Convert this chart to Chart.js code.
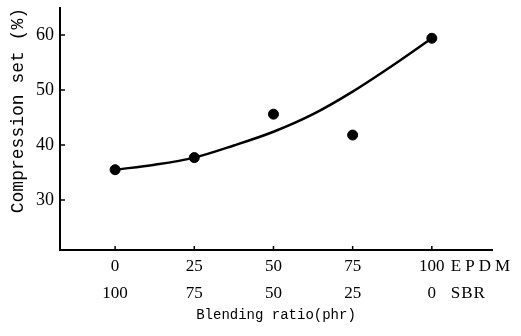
<!DOCTYPE html>
<html>
<head>
<meta charset="utf-8">
<script src="https://cdn.jsdelivr.net/npm/chart.js@4"></script>
<style>
  html, body { margin: 0; padding: 0; background: #fff; }
  #wrap { width: 521px; height: 336px; }
</style>
</head>
<body>
<div id="wrap"><canvas id="chart" width="521" height="336"></canvas></div>
<script>
// measured points (EPDM phr, compression set %)
const epdm = [0, 25, 50, 75, 100];
const sbr = [100, 75, 50, 25, 0];
const compressionSet = [35.5, 37.7, 45.6, 41.8, 59.4];

// smooth trend curve drawn through the data
const curveX = [0, 12.5, 25, 37.5, 50, 62.5, 75, 87.5, 100];
const curveY = [35.5, 36.4, 37.7, 39.9, 42.4, 45.6, 49.7, 54.4, 59.4];

const yTicks = [30, 40, 50, 60];

const serif = "'Liberation Serif', 'DejaVu Serif', serif";
const mono = "'Liberation Mono', 'DejaVu Sans Mono', monospace";

// inward tick marks + EPDM / SBR row names
const extras = {
    id: 'extras',
    afterDraw(chart) {
        const x = chart.scales.x;
        const y = chart.scales.y;
        const area = chart.chartArea;
        const ctx = chart.ctx;
        ctx.save();
        ctx.strokeStyle = '#000';
        ctx.lineWidth = 1.5;
        ctx.beginPath();
        yTicks.forEach(v => {
            const py = y.getPixelForValue(v);
            ctx.moveTo(area.left, py);
            ctx.lineTo(area.left + 5, py);
        });
        epdm.forEach(v => {
            const px = x.getPixelForValue(v);
            ctx.moveTo(px, area.bottom);
            ctx.lineTo(px, area.bottom - 4);
        });
        ctx.stroke();

        const px = x.getPixelForValue(100);
        ctx.fillStyle = '#000';
        ctx.font = '17px ' + serif;
        ctx.textBaseline = 'middle';
        ctx.textAlign = 'left';
        if ('letterSpacing' in ctx) ctx.letterSpacing = '4px';
        ctx.fillText('EPDM', px + 19, x.top + 16.5);
        if ('letterSpacing' in ctx) ctx.letterSpacing = '1px';
        ctx.fillText('SBR', px + 19, x.top + 43.5);
        ctx.restore();
    }
};

new Chart(document.getElementById('chart'), {
    type: 'scatter',
    data: {
        datasets: [{
            type: 'line',
            data: curveX.map((v, i) => ({ x: v, y: curveY[i] })),
            borderColor: '#000',
            borderWidth: 2.5,
            pointRadius: 0,
            cubicInterpolationMode: 'monotone',
            fill: false
        }, {
            data: epdm.map((v, i) => ({ x: v, y: compressionSet[i] })),
            backgroundColor: '#000',
            borderColor: '#000',
            pointRadius: 5,
            pointHoverRadius: 5
        }]
    },
    options: {
        responsive: false,
        animation: false,
        events: [],
        layout: { padding: { top: 8, right: 29, left: 0, bottom: 0 } },
        plugins: {
            legend: { display: false },
            tooltip: { enabled: false }
        },
        scales: {
            x: {
                type: 'linear',
                min: -17.4,
                max: 119,
                afterFit(scale) {
                    scale.height = 86;
                    scale.paddingLeft = 0;
                    scale.paddingRight = 0;
                },
                afterBuildTicks(scale) {
                    scale.ticks = epdm.map(v => ({ value: v }));
                },
                border: { display: true, color: '#000', width: 2 },
                grid: { display: false, drawTicks: false },
                ticks: {
                    color: '#000',
                    padding: 3,
                    maxRotation: 0,
                    autoSkip: false,
                    font: { family: serif, size: 17, lineHeight: 27 / 17 },
                    callback(value) {
                        const i = epdm.indexOf(value);
                        return i < 0 ? '' : [String(epdm[i]), String(sbr[i])];
                    }
                },
                title: {
                    display: true,
                    text: 'Blending ratio(phr)',
                    color: '#000',
                    font: { family: mono, size: 14 },
                    padding: { top: 0, bottom: 12 }
                }
            },
            y: {
                type: 'linear',
                min: 20.9,
                max: 64.9,
                afterFit(scale) {
                    scale.width = 60;
                    scale.paddingTop = 0;
                    scale.paddingBottom = 0;
                },
                afterBuildTicks(scale) {
                    scale.ticks = yTicks.map(v => ({ value: v }));
                },
                border: { display: true, color: '#000', width: 2 },
                grid: { display: false, drawTicks: false },
                ticks: {
                    color: '#000',
                    padding: 6,
                    font: { family: serif, size: 18 }
                },
                title: {
                    display: true,
                    text: 'Compression set (%)',
                    color: '#000',
                    align: 'end',
                    font: { family: mono, size: 18 },
                    padding: { top: 7, bottom: 0 }
                }
            }
        }
    },
    plugins: [extras]
});
</script>
</body>
</html>
